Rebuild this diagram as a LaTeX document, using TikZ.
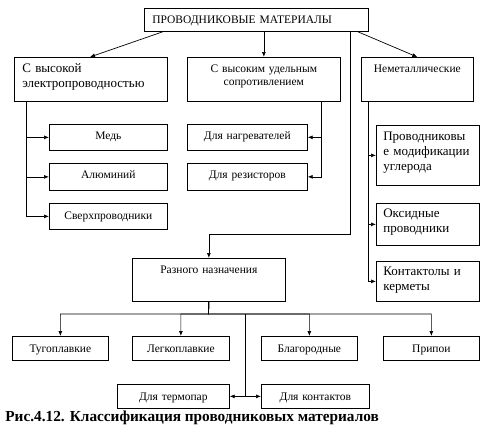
\documentclass[tikz,border=0pt]{standalone}
\usepackage{fontspec}
\setmainfont{Liberation Serif}
\usepackage{tikz}
\usetikzlibrary{arrows.meta}

\begin{document}
\begin{tikzpicture}[x=1pt,y=-1pt,>={Latex[length=5pt,width=4pt]},line width=0.7pt,
    box/.style={rectangle,draw,inner sep=0pt,anchor=north west},
    small/.style={font=\fontsize{11.5}{13}\selectfont,align=center},
    big/.style={font=\fontsize{13}{15}\selectfont,align=left,inner xsep=8pt}]
    \useasboundingbox (0,0) rectangle (492,432);

    % Top level
    \node[box,font=\fontsize{11.5}{13}\selectfont,align=left,inner xsep=8pt,text width=208pt,text height=15pt,text depth=8pt] (top) at (144,8) {ПРОВОДНИКОВЫЕ МАТЕРИАЛЫ};

    % Second level
    \node[box,big,text width=137pt,text height=15.5pt,text depth=28.5pt] (hi) at (14,57) {С высокой\\электропроводностью};
    \node[box,small,text width=153pt,text height=15pt,text depth=29pt] (hr) at (187,57) {С высоким удельным\\сопротивлением};
    \node[box,small,text width=112pt,text height=15pt,text depth=29pt] (nm) at (361,57) {Неметаллические};

    % High conductivity
    \node[box,small,text width=118pt,text height=15pt,text depth=11pt] (cu) at (49,124) {Медь};
    \node[box,small,text width=118pt,text height=15pt,text depth=12pt] (al) at (49,163) {Алюминий};
    \node[box,small,text width=118pt,text height=16pt,text depth=10pt] (sc) at (49,203) {Сверхпроводники};

    % High resistivity
    \node[box,small,text width=120pt,text height=15pt,text depth=11pt] (heat) at (187,124) {Для нагревателей};
    \node[box,small,text width=120pt,text height=15pt,text depth=12pt] (res) at (187,163) {Для резисторов};

    % Nonmetallic
    \node[box,big,inner xsep=7pt,text width=89pt,text height=15pt,text depth=45pt] (cb) at (376,125) {Проводниковы\\е модификации\\углерода};
    \node[box,big,inner xsep=7pt,text width=89pt,text height=14pt,text depth=28pt] (ox) at (376,203) {Оксидные\\проводники};
    \node[box,big,inner xsep=7pt,text width=89pt,text height=14pt,text depth=26pt] (kt) at (376,261) {Контактолы и\\керметы};

    % Miscellaneous
    \node[box,small,text width=153pt,text height=15pt,text depth=28pt] (misc) at (132,258) {Разного назначения};
    \node[box,small,text width=96pt,text height=16pt,text depth=8pt] (tug) at (12,336) {Тугоплавкие};
    \node[box,small,text width=97pt,text height=16pt,text depth=8pt] (leg) at (132,336) {Легкоплавкие};
    \node[box,small,text width=96pt,text height=16pt,text depth=8pt] (blg) at (261,336) {Благородные};
    \node[box,small,text width=96pt,text height=16pt,text depth=8pt] (prp) at (383,336) {Припои};
    \node[box,small,text width=112pt,text height=16pt,text depth=8pt] (tc) at (117,384) {Для термопар};
    \node[box,small,text width=108pt,text height=16pt,text depth=8pt] (ctc) at (261,384) {Для контактов};

    % Caption
    \node[anchor=base west,inner sep=0pt,font=\fontsize{15.3}{17}\selectfont\bfseries] (cap) at (5,421.5) {Рис.4.12. Классификация проводниковых материалов};

    % Joints
    \coordinate (mx) at (350,234);
    \coordinate (split) at (208.5,314);
    \coordinate (tp) at (245,314);

    % Top connectors
    \draw[->] ([xshift=19pt]top.south west) -- ([xshift=76pt]hi.north west);
    \draw[->] (top.south -| hr.north) -- (hr.north);
    \draw[->] ([xshift=-11pt]top.south east) -- (nm.north);
    \draw[->] (top.south -| mx) -- (mx) -| (misc.north);

    % Branches
    \foreach \n in {cu,al,sc}
        \draw[->] ([xshift=12pt]hi.south west) |- (\n);
    \foreach \n in {heat,res}
        \draw[->] ([xshift=-19pt]hr.south east) |- (\n);
    \foreach \n in {cb,ox,kt}
        \draw[->] ([xshift=7pt]nm.south west) |- (\n);
    \foreach \n in {tug,leg,blg,prp}
        \draw[->] (misc.south) -- (split) -| (\n.north);
    \draw[->] (tp) |- (tc);
    \draw[->] (tp) |- (ctc);
\end{tikzpicture}
\end{document}
